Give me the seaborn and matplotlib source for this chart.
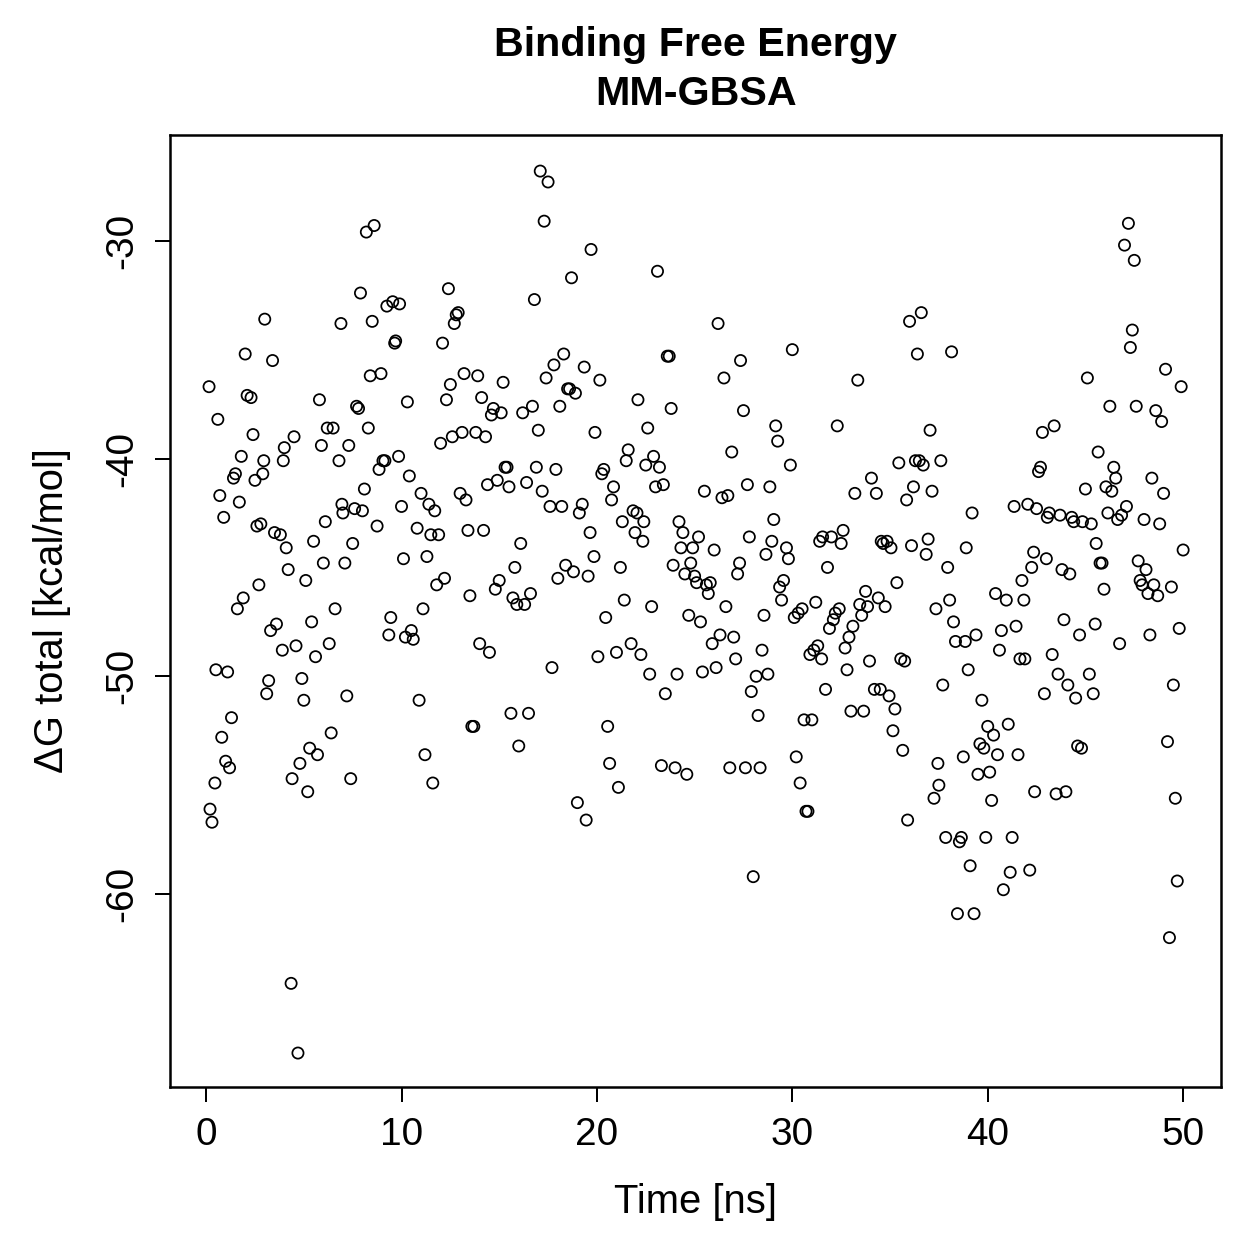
import matplotlib
matplotlib.use('Agg')
import matplotlib.pyplot as plt
import seaborn as sns
import pandas as pd

# Tiempo de simulacion (ns) y energia libre de union (kcal/mol)
tiempo = [0.15, 0.2, 0.3, 0.45, 0.5, 0.6, 0.7, 0.8, 0.9, 1.0, 1.1, 1.2, 1.3, 1.4, 1.5, 1.6, 1.7, 1.8, 1.9, 2.0,
          2.1, 2.3, 2.4, 2.5, 2.6, 2.7, 2.8, 2.9, 2.95, 3.0, 3.1, 3.2, 3.3, 3.4, 3.5, 3.6, 3.8, 3.9, 3.95, 4.0,
          4.1, 4.2, 4.35, 4.4, 4.5, 4.6, 4.7, 4.8, 4.9, 5.0, 5.1, 5.2, 5.3, 5.4, 5.5, 5.6, 5.7, 5.8, 5.9, 6.0,
          6.1, 6.2, 6.3, 6.4, 6.5, 6.6, 6.8, 6.9, 6.95, 7.0, 7.1, 7.2, 7.3, 7.4, 7.5, 7.6, 7.7, 7.8, 7.9, 8.0,
          8.1, 8.2, 8.3, 8.4, 8.5, 8.6, 8.75, 8.85, 8.95, 9.05, 9.15, 9.25, 9.35, 9.45, 9.55, 9.65, 9.7, 9.85, 9.9, 10.0,
          10.1, 10.2, 10.3, 10.4, 10.5, 10.6, 10.8, 10.9, 11.0, 11.1, 11.2, 11.3, 11.4, 11.5, 11.6, 11.7, 11.8, 11.9, 12.0, 12.1,
          12.2, 12.3, 12.4, 12.5, 12.6, 12.7, 12.8, 12.9, 13.0, 13.1, 13.2, 13.3, 13.4, 13.5, 13.6, 13.7, 13.8, 13.9, 14.0, 14.1,
          14.2, 14.3, 14.4, 14.5, 14.6, 14.7, 14.8, 14.9, 15.0, 15.1, 15.2, 15.3, 15.4, 15.5, 15.6, 15.7, 15.8, 15.9, 16.0, 16.1,
          16.2, 16.3, 16.4, 16.5, 16.6, 16.7, 16.8, 16.9, 17.0, 17.1, 17.2, 17.3, 17.4, 17.5, 17.6, 17.7, 17.8, 17.9, 18.0, 18.1,
          18.2, 18.3, 18.4, 18.5, 18.6, 18.7, 18.8, 18.9, 19.0, 19.1, 19.25, 19.35, 19.45, 19.55, 19.65, 19.7, 19.85, 19.9, 20.05, 20.15,
          20.25, 20.35, 20.45, 20.55, 20.65, 20.75, 20.85, 21.0, 21.1, 21.2, 21.3, 21.4, 21.5, 21.6, 21.75, 21.85, 21.95, 22.05, 22.1, 22.25,
          22.35, 22.4, 22.5, 22.6, 22.7, 22.8, 22.9, 23.0, 23.1, 23.2, 23.3, 23.4, 23.5, 23.6, 23.7, 23.8, 23.9, 24.0, 24.1, 24.2,
          24.3, 24.4, 24.5, 24.6, 24.7, 24.8, 24.9, 25.0, 25.1, 25.2, 25.3, 25.4, 25.5, 25.6, 25.7, 25.8, 25.9, 26.0, 26.1, 26.2,
          26.3, 26.4, 26.5, 26.6, 26.7, 26.8, 26.9, 27.0, 27.1, 27.2, 27.3, 27.35, 27.5, 27.6, 27.7, 27.8, 27.9, 28.0, 28.15, 28.25,
          28.35, 28.45, 28.55, 28.65, 28.75, 28.85, 28.95, 29.05, 29.15, 29.25, 29.35, 29.45, 29.55, 29.7, 29.8, 29.9, 30.0, 30.1, 30.2, 30.3,
          30.4, 30.5, 30.6, 30.7, 30.8, 30.9, 31.0, 31.1, 31.2, 31.3, 31.4, 31.5, 31.55, 31.7, 31.8, 31.9, 32.0, 32.1, 32.2, 32.3,
          32.4, 32.5, 32.6, 32.7, 32.8, 32.9, 33.0, 33.1, 33.2, 33.35, 33.45, 33.55, 33.65, 33.75, 33.85, 33.95, 34.05, 34.2, 34.3, 34.4,
          34.5, 34.55, 34.65, 34.75, 34.85, 34.95, 35.05, 35.15, 35.25, 35.35, 35.45, 35.55, 35.65, 35.75, 35.85, 35.9, 36.0, 36.1, 36.2, 36.3,
          36.4, 36.5, 36.6, 36.7, 36.85, 36.95, 37.05, 37.15, 37.25, 37.35, 37.45, 37.5, 37.6, 37.7, 37.85, 37.95, 38.05, 38.15, 38.25, 38.35,
          38.45, 38.55, 38.65, 38.75, 38.85, 38.9, 39.0, 39.1, 39.2, 39.3, 39.4, 39.5, 39.6, 39.7, 39.8, 39.9, 40.0, 40.1, 40.2, 40.3,
          40.4, 40.5, 40.6, 40.7, 40.8, 40.95, 41.05, 41.15, 41.25, 41.35, 41.45, 41.55, 41.65, 41.75, 41.85, 41.9, 42.05, 42.15, 42.25, 42.35,
          42.4, 42.5, 42.6, 42.7, 42.8, 42.9, 43.0, 43.05, 43.15, 43.3, 43.4, 43.5, 43.6, 43.7, 43.8, 43.9, 44.0, 44.1, 44.2, 44.3,
          44.4, 44.5, 44.6, 44.7, 44.8, 44.85, 45.0, 45.1, 45.2, 45.3, 45.4, 45.5, 45.55, 45.65, 45.75, 45.85, 45.95, 46.05, 46.15, 46.25,
          46.35, 46.45, 46.55, 46.65, 46.75, 46.85, 47.0, 47.1, 47.2, 47.3, 47.4, 47.5, 47.6, 47.7, 47.8, 47.9, 48.0, 48.1, 48.2, 48.3,
          48.4, 48.5, 48.6, 48.7, 48.8, 48.9, 49.0, 49.1, 49.2, 49.3, 49.4, 49.5, 49.6, 49.7, 49.8, 49.9, 50.0]

delta_g = [-36.7, -56.1, -56.7, -54.9, -49.7, -38.2, -41.7, -52.8, -42.7, -53.9, -49.8, -54.2, -51.9, -40.9, -40.7, -46.9, -42.0, -39.9, -46.4, -35.2,
           -37.1, -37.2, -38.9, -41.0, -43.1, -45.8, -43.0, -40.7, -40.1, -33.6, -50.8, -50.2, -47.9, -35.5, -43.4, -47.6, -43.5, -48.8, -40.1, -39.5,
           -44.1, -45.1, -64.1, -54.7, -39.0, -48.6, -67.3, -54.0, -50.1, -51.1, -45.6, -55.3, -53.3, -47.5, -43.8, -49.1, -53.6, -37.3, -39.4, -44.8,
           -42.9, -38.6, -48.5, -52.6, -38.6, -46.9, -40.1, -33.8, -42.1, -42.5, -44.8, -50.9, -39.4, -54.7, -43.9, -42.3, -37.6, -37.7, -32.4, -42.4,
           -41.4, -29.6, -38.6, -36.2, -33.7, -29.3, -43.1, -40.5, -36.1, -40.1, -40.1, -33.0, -48.1, -47.3, -32.8, -34.7, -34.6, -39.9, -32.9, -42.2,
           -44.6, -48.2, -37.4, -40.8, -47.9, -48.3, -43.2, -51.1, -41.6, -46.9, -53.6, -44.5, -42.1, -43.5, -54.9, -42.4, -45.8, -43.5, -39.3, -34.7,
           -45.5, -37.3, -32.2, -36.6, -39.0, -33.8, -33.4, -33.3, -41.6, -38.8, -36.1, -41.9, -43.3, -46.3, -52.3, -52.3, -38.8, -36.2, -48.5, -37.2,
           -43.3, -39.0, -41.2, -48.9, -38.0, -37.7, -46.0, -41.0, -45.6, -37.9, -36.5, -40.4, -40.4, -41.3, -51.7, -46.4, -45.0, -46.7, -53.2, -43.9,
           -37.9, -46.7, -41.1, -51.7, -46.2, -37.6, -32.7, -40.4, -38.7, -26.8, -41.5, -29.1, -36.3, -27.3, -42.2, -49.6, -35.7, -40.5, -45.5, -37.6,
           -42.2, -35.2, -44.9, -36.8, -36.8, -31.7, -45.2, -37.0, -55.8, -42.5, -42.1, -35.8, -56.6, -45.4, -43.4, -30.4, -44.5, -38.8, -49.1, -36.4,
           -40.7, -40.5, -47.3, -52.3, -54.0, -41.9, -41.3, -48.9, -55.1, -45.0, -42.9, -46.5, -40.1, -39.6, -48.5, -42.4, -43.4, -42.5, -37.3, -49.0,
           -43.8, -42.9, -40.3, -38.6, -49.9, -46.8, -39.9, -41.3, -31.4, -40.4, -54.1, -41.2, -50.8, -35.3, -35.3, -37.7, -44.9, -54.2, -49.9, -42.9,
           -44.1, -43.4, -45.3, -54.5, -47.2, -44.8, -44.1, -45.4, -45.7, -43.6, -47.5, -49.8, -41.5, -45.8, -46.2, -45.7, -48.5, -44.2, -49.6, -33.8,
           -48.1, -41.8, -36.3, -46.8, -41.7, -54.2, -39.7, -48.2, -49.2, -45.3, -44.8, -35.5, -37.8, -54.2, -41.2, -43.6, -50.7, -59.2, -50.0, -51.8,
           -54.2, -48.8, -47.2, -44.4, -49.9, -41.3, -43.8, -42.8, -38.5, -39.2, -45.9, -46.5, -45.6, -44.1, -44.6, -40.3, -35.0, -47.3, -53.7, -47.1,
           -54.9, -46.9, -52.0, -56.2, -56.2, -49.0, -52.0, -48.8, -46.6, -48.6, -43.8, -49.2, -43.6, -50.6, -45.0, -47.8, -43.6, -47.4, -47.1, -38.5,
           -46.9, -43.9, -43.3, -48.7, -49.7, -48.2, -51.6, -47.7, -41.6, -36.4, -46.7, -47.2, -51.6, -46.1, -46.8, -49.3, -40.9, -50.6, -41.6, -46.4,
           -50.6, -43.8, -43.9, -46.8, -43.8, -50.9, -44.1, -52.5, -51.5, -45.7, -40.2, -49.2, -53.4, -49.3, -41.9, -56.6, -33.7, -44.0, -41.3, -40.1,
           -35.2, -40.1, -33.3, -40.3, -44.4, -43.7, -38.7, -41.5, -55.6, -46.9, -54.0, -55.0, -40.1, -50.4, -57.4, -45.0, -46.5, -35.1, -47.5, -48.4,
           -60.9, -57.6, -57.4, -53.7, -48.4, -44.1, -49.7, -58.7, -42.5, -60.9, -48.1, -54.5, -53.1, -51.1, -53.3, -57.4, -52.3, -54.4, -55.7, -52.7,
           -46.2, -53.6, -48.8, -47.9, -59.8, -46.5, -52.2, -59.0, -57.4, -42.2, -47.7, -53.6, -49.2, -45.6, -46.5, -49.2, -42.1, -58.9, -45.0, -44.3,
           -55.3, -42.3, -40.6, -40.4, -38.8, -50.8, -44.6, -42.7, -42.5, -49.0, -38.5, -55.4, -49.9, -42.6, -45.1, -47.4, -55.3, -50.4, -45.3, -42.7,
           -42.9, -51.0, -53.2, -48.1, -53.3, -42.9, -41.4, -36.3, -49.9, -43.0, -50.8, -47.6, -43.9, -39.7, -44.8, -44.8, -46.0, -41.3, -42.5, -37.6,
           -41.5, -40.4, -40.9, -42.8, -48.5, -42.6, -30.2, -42.2, -29.2, -34.9, -34.1, -30.9, -37.6, -44.7, -45.6, -45.8, -42.8, -45.1, -46.2, -48.1,
           -40.9, -45.8, -37.8, -46.3, -43.0, -38.3, -41.6, -35.9, -53.0, -62.0, -45.9, -50.4, -55.6, -59.4, -47.8, -36.7, -44.2]

datos = pd.DataFrame({'Time': tiempo, 'DeltaG': delta_g})

sns.set_style('white')
plt.rcParams['font.family'] = ['Liberation Sans', 'DejaVu Sans']
plt.rcParams['text.color'] = 'black'
plt.rcParams['axes.labelcolor'] = 'black'
plt.rcParams['xtick.color'] = 'black'
plt.rcParams['ytick.color'] = 'black'

fig = plt.figure(figsize=(1259 / 180, 1259 / 180), dpi=180)
ax = fig.add_axes([0.135, 0.1366, 0.835, 0.7564])

sns.scatterplot(x='Time', y='DeltaG', data=datos, ax=ax, marker='o',
                facecolors='none', edgecolor='black', linewidth=0.7, s=20)

ax.set_xlim(-1.85, 51.95)
ax.set_ylim(-68.86, -25.13)
ax.set_xticks([0, 10, 20, 30, 40, 50])
ax.set_yticks([-60, -50, -40, -30])
ax.set_yticklabels(['-60', '-50', '-40', '-30'], rotation=90, va='center')

for s in ax.spines.values():
    s.set_visible(True)
    s.set_color('black')
    s.set_linewidth(1.0)

ax.tick_params(axis='both', direction='out', length=6, width=0.8, color='black',
               labelcolor='black', labelsize=15.5, pad=6, bottom=True, left=True)

ax.set_xlabel('Time [ns]', fontsize=16, labelpad=12, color='black')
ax.set_ylabel('ΔG total [kcal/mol]', fontsize=16, labelpad=13, color='black')
ax.set_title('Binding Free Energy\nMM-GBSA', fontsize=16.5, fontweight='bold',
             pad=12, linespacing=1.35, color='black')

fig.savefig('out.png', dpi=180)
